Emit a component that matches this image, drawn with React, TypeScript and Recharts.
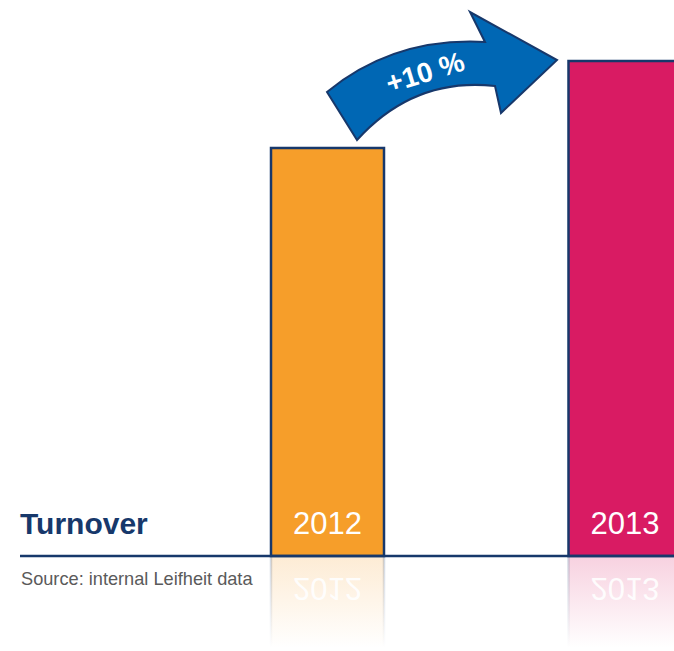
import React from "react";
import { BarChart, Bar, XAxis, YAxis, Cell, ReferenceLine, Customized } from "recharts";

// turnover indexed to 2012 = 100 (chart shows +10 %)
const years = ["2012", "2013"];
const turnoverIndex = [100, 110];
const barColors = ["#f69e2a", "#d91b63"];
const growthLabel = "+10 %";

const data = years.map((year, i) => ({ year, value: turnoverIndex[i] }));

const NAVY = "#17386b";
const FONT = "'Liberation Sans', Arial, Helvetica, sans-serif";

function BarWithReflection(props: any) {
  const { x, y, width, height, fill, index, payload } = props;
  const base = y + height;
  const refH = 92;
  const cx = x + width / 2;
  return (
    <g>
      <defs>
        <linearGradient id={`refl-${index}`} gradientUnits="userSpaceOnUse" x1={0} y1={base} x2={0} y2={base + refH}>
          <stop offset="0" stopColor={fill} stopOpacity={0.2} />
          <stop offset="1" stopColor={fill} stopOpacity={0} />
        </linearGradient>
        <linearGradient id={`edge-${index}`} gradientUnits="userSpaceOnUse" x1={0} y1={base} x2={0} y2={base + refH}>
          <stop offset="0" stopColor={NAVY} stopOpacity={0.2} />
          <stop offset="1" stopColor={NAVY} stopOpacity={0} />
        </linearGradient>
      </defs>
      <rect x={x} y={base} width={width} height={refH} fill={`url(#refl-${index})`} />
      <line x1={x} y1={base} x2={x} y2={base + refH} stroke={`url(#edge-${index})`} strokeWidth={2.5} />
      <line x1={x + width} y1={base} x2={x + width} y2={base + refH} stroke={`url(#edge-${index})`} strokeWidth={2.5} />
      <text
        transform={`translate(0, ${2 * base}) scale(1,-1)`}
        x={cx}
        y={base - 22}
        textAnchor="middle"
        fontFamily={FONT}
        fontSize={31}
        fill="#ffffff"
        opacity={0.9}
      >
        {payload.year}
      </text>
      <rect x={x} y={y} width={width} height={height} fill={fill} stroke={NAVY} strokeWidth={2.5} />
      <text x={cx} y={base - 22} textAnchor="middle" fontFamily={FONT} fontSize={31} fill="#ffffff">
        {payload.year}
      </text>
    </g>
  );
}

function GrowthArrow() {
  const d =
    "M357,140 L327,92 Q394,37 485,42 L470,12 L557,60 L501,113 L495,86 Q414,77 357,140 Z";
  return (
    <g>
      <path d={d} fill="#0067b4" stroke={NAVY} strokeWidth={2} strokeLinejoin="miter" />
      <text
        x={425}
        y={82}
        transform="rotate(-17 425 72)"
        textAnchor="middle"
        fontFamily={FONT}
        fontWeight="bold"
        fontSize={28}
        fill="#ffffff"
      >
        {growthLabel}
      </text>
    </g>
  );
}

function Baseline(props: any) {
  const { y1 } = props;
  return <line x1={20} y1={y1} x2={674} y2={y1} stroke={NAVY} strokeWidth={2.5} />;
}

export default function App() {
  return (
    <div style={{ position: "absolute", left: 0, top: 0, width: 674, height: 651, background: "#fff" }}>
      <BarChart
        width={674}
        height={651}
        data={data}
        margin={{ top: 61, right: -100, left: 179, bottom: 95 }}
        barSize={113}
      >
        <XAxis dataKey="year" hide />
        <YAxis hide domain={[53.1, 110]} />
        <Bar dataKey="value" shape={BarWithReflection} isAnimationActive={false}>
          {data.map((d, i) => (
            <Cell key={d.year} fill={barColors[i]} />
          ))}
        </Bar>
        <ReferenceLine y={53.1} shape={Baseline} ifOverflow="visible" />
        <Customized component={GrowthArrow} />
        <text x={20} y={534} fontFamily={FONT} fontWeight="bold" fontSize={30} fill={NAVY}>
          Turnover
        </text>
        <text x={21} y={585} fontFamily={FONT} fontSize={18.2} fill="#5a5a5a">
          Source: internal Leifheit data
        </text>
      </BarChart>
    </div>
  );
}
